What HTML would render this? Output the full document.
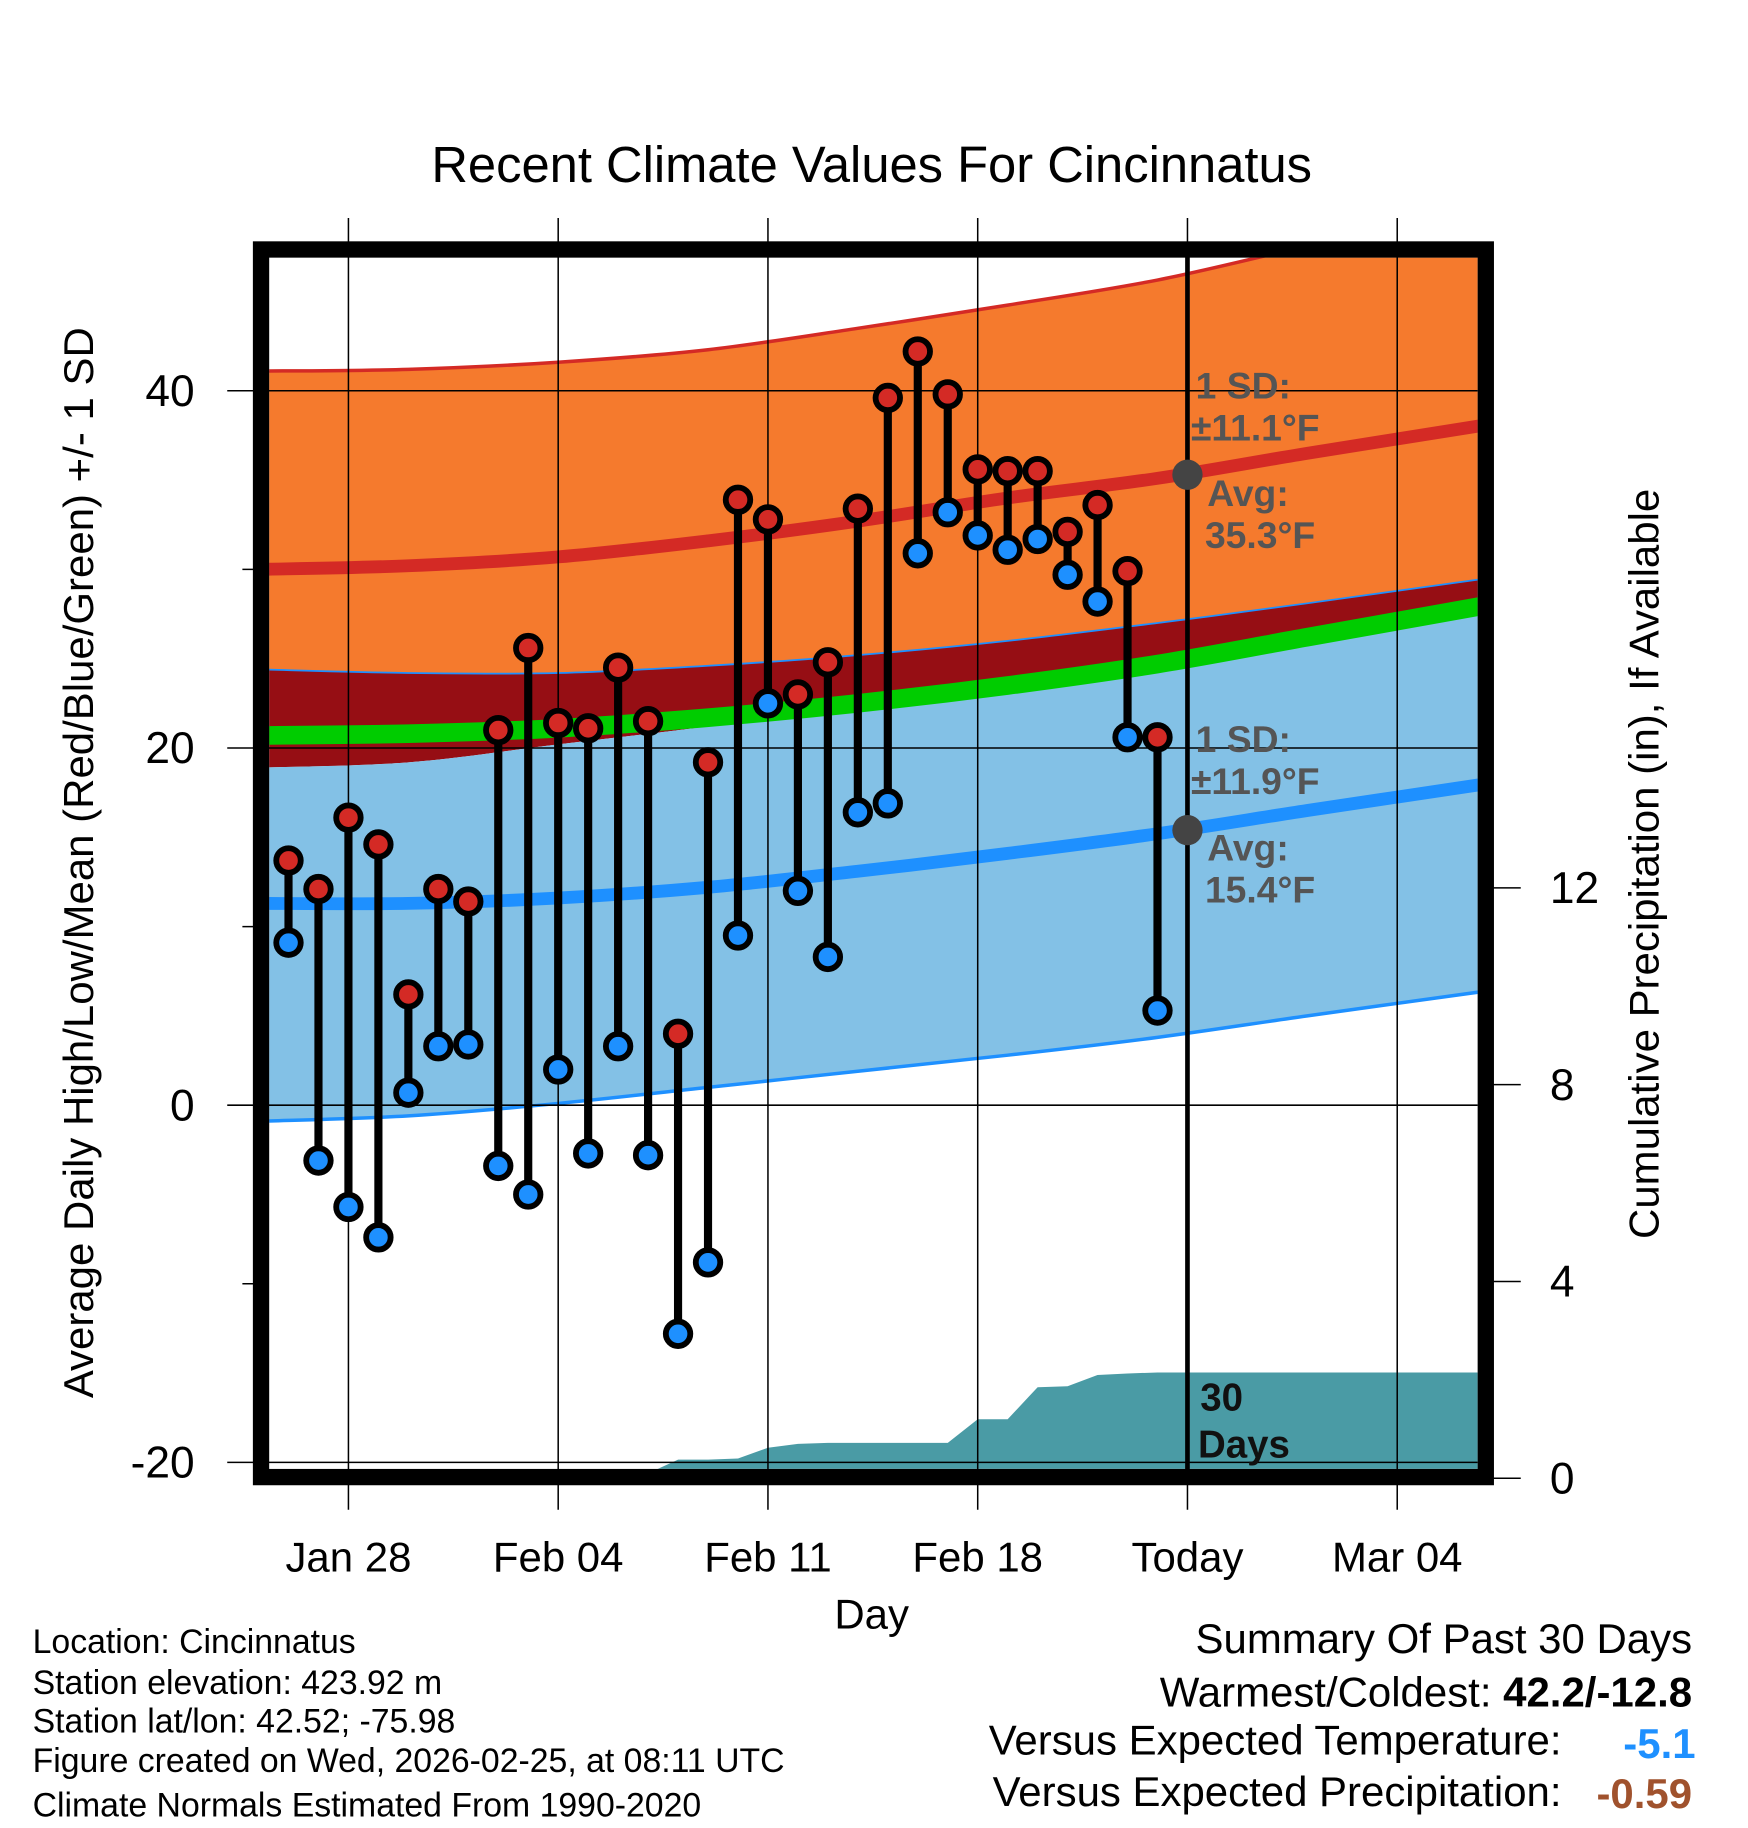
<!DOCTYPE html>
<html><head><meta charset="utf-8"><style>html,body{margin:0;padding:0;background:#fff}svg{display:block}text{font-family:"Liberation Sans",sans-serif}</style></head>
<body>
<svg id="chart" width="1748" height="1828" viewBox="0 0 1500 1568" preserveAspectRatio="none" xmlns="http://www.w3.org/2000/svg">
<defs><clipPath id="pc"><rect x="231" y="221" width="1037" height="1039"/></clipPath></defs>
<rect width="1500" height="1568" fill="#fff"/>
<g id="bands" clip-path="url(#pc)"></g>
<g id="grid"></g>
<g id="marks"></g>
<g id="annot" font-size="32" font-weight="bold" fill="#555">
<text x="1026" y="342">1 SD:</text>
<text x="1022" y="378">±11.1°F</text>
<text x="1036" y="434">Avg:</text>
<text x="1034" y="470">35.3°F</text>
<text x="1026" y="645">1 SD:</text>
<text x="1022" y="681">±11.9°F</text>
<text x="1036" y="738">Avg:</text>
<text x="1034" y="774">15.4°F</text>
<text x="1030" y="1210" fill="#111" font-size="33">30</text>
<text x="1028" y="1250" fill="#111" font-size="33">Days</text>
</g>
<rect x="224" y="214" width="1051" height="1053" fill="none" stroke="#000" stroke-width="14"/>
<text x="748" y="156" font-size="43.5" text-anchor="middle">Recent Climate Values For Cincinnatus</text>
<text transform="translate(80,740) rotate(-90)" font-size="36" text-anchor="middle">Average Daily High/Low/Mean (Red/Blue/Green) +/- 1 SD</text>
<text transform="translate(1423,741) rotate(-90)" font-size="36" text-anchor="middle">Cumulative Precipitation (in), If Available</text>
<text x="748" y="1397" font-size="36" text-anchor="middle">Day</text>
<g font-size="29">
<text x="28" y="1418">Location: Cincinnatus</text>
<text x="28" y="1453">Station elevation: 423.92 m</text>
<text x="28" y="1486">Station lat/lon: 42.52; -75.98</text>
<text x="28" y="1520">Figure created on Wed, 2026-02-25, at 08:11 UTC</text>
<text x="28" y="1558">Climate Normals Estimated From 1990-2020</text>
</g>
<g font-size="36" text-anchor="end">
<text x="1452" y="1418">Summary Of Past 30 Days</text>
<text x="1452" y="1464">Warmest/Coldest: <tspan font-weight="bold">42.2/-12.8</tspan></text>
<text x="1340" y="1505">Versus Expected Temperature:</text>
<text x="1455" y="1508" font-weight="bold" fill="#1e90ff">-5.1</text>
<text x="1340" y="1549">Versus Expected Precipitation:</text>
<text x="1452" y="1551" font-weight="bold" fill="#a0522d">-0.59</text>
</g>
</svg>
<script>
const days=[-2,-1,0,1,2,3,4,5,6,7,8,9,10,11,12,13,14,15,16,17,18,19,20,21,22,23,24,25,26,27];
const highs=[13.7,12.1,16.1,14.6,6.2,12.1,11.4,21.0,25.6,21.4,21.1,24.5,21.5,4.0,19.2,33.9,32.8,23.0,24.8,33.4,39.6,42.2,39.8,35.6,35.5,35.5,32.1,33.6,29.9,20.6];
const lows=[9.1,-3.1,-5.7,-7.4,0.7,3.3,3.4,-3.4,-5.0,2.0,-2.7,3.3,-2.8,-12.8,-8.8,9.5,22.5,12.0,8.3,16.4,16.9,30.9,33.2,31.9,31.1,31.7,29.7,28.2,20.6,5.3];
const precip=[0,0,0,0,0,0,0,0,0,0,0,0,0.1,0.38,0.38,0.4,0.62,0.7,0.72,0.72,0.72,0.72,0.72,1.2,1.2,1.85,1.87,2.1,2.13,2.15];
const normDays=[-3,2,7,12,17,22,27,32,38];
const hiUpper=[41.1,41.2,41.6,42.3,43.5,44.8,46.2,48.1,50.3];
const hiMean=[30.0,30.2,30.7,31.6,32.7,34.0,35.1,36.5,38.1];
const hiLower=[24.4,24.2,24.2,24.6,25.2,26.0,27.0,28.1,29.5];
const avgMean=[20.7,20.8,21.1,21.7,22.5,23.5,24.7,26.2,28.0];
const loUpper=[18.9,19.2,20.2,21.2,22.3,23.5,24.8,26.0,27.5];
const loMean=[11.3,11.3,11.6,12.2,13.1,14.1,15.2,16.5,18.0];
const loLower=[-0.9,-0.6,0.1,1.0,1.9,2.8,3.8,5.0,6.4];
const xTickDays=[0,7,14,21,28,35];
const xTickLabels=["Jan 28","Feb 04","Feb 11","Feb 18","Today","Mar 04"];
const yTicks=[40,20,0,-20];
const yMinor=[30,10,-10];
const y2Ticks=[0,4,8,12];
const todayDay=28, todayHi=35.3, todayLo=15.4;

const NS="http://www.w3.org/2000/svg";
const X=d=>299+25.714*d;
const Y=v=>948-15.32*v;
const Y2=p=>1268-42.2*p;
function mk(t,a,p){const e=document.createElementNS(NS,t);for(const k in a)e.setAttribute(k,a[k]);p.appendChild(e);return e;}
const bands=document.getElementById('bands'),grid=document.getElementById('grid'),marks=document.getElementById('marks');
function curve(P,start){
 let s=start+P[0][0].toFixed(1)+','+P[0][1].toFixed(1);
 for(let i=0;i<P.length-1;i++){
  const p0=P[i-1]||P[i],p1=P[i],p2=P[i+1],p3=P[i+2]||P[i+1];
  const c1=[p1[0]+(p2[0]-p0[0])/6,p1[1]+(p2[1]-p0[1])/6];
  const c2=[p2[0]-(p3[0]-p1[0])/6,p2[1]-(p3[1]-p1[1])/6];
  s+=' C'+c1.map(v=>v.toFixed(1)).join(',')+' '+c2.map(v=>v.toFixed(1)).join(',')+' '+p2.map(v=>v.toFixed(1)).join(',');
 }
 return s;
}
function ptsOf(arr){return normDays.map((d,i)=>[X(d),Y(arr[i])]);}
function area(up,lo,fill,name){
 const e=mk('path',{d:curve(ptsOf(up),'M')+' '+curve(ptsOf(lo).reverse(),'L')+' Z',fill:fill},bands);
 
 
}
function line(arr,col,w,name){
 const e=mk('path',{d:curve(ptsOf(arr),'M'),fill:'none',stroke:col,'stroke-width':w},bands);
 
 
}
area(hiLower,loUpper,'#960e14','overlap-band');
area(hiUpper,hiLower,'#f57a2d','high-sd-band');
area(loUpper,loLower,'#83c1e6','low-sd-band');
line(hiUpper,'#d42a25',3,'high-upper-line');
line(loLower,'#1e90ff',3,'low-lower-line');
line(hiLower,'#1e90ff',1.5,'high-lower-line');
line(avgMean,'#00cc00',16,'mean-line');
line(hiMean,'#d42a25',11,'high-mean-line');
line(loMean,'#1e90ff',11,'low-mean-line');
{
 const p=[X(-2.7)+','+Y2(0)];
 days.forEach((d,i)=>p.push(X(d).toFixed(1)+','+Y2(precip[i]).toFixed(1)));
 p.push(X(38)+','+Y2(precip[precip.length-1]));p.push(X(38)+','+Y2(0));
 const e=mk('polygon',{points:p.join(' '),fill:'#4a9ba5'},bands);
 
 
}
yTicks.forEach(v=>{
 const g=mk('line',{x1:195,x2:1268,y1:Y(v),y2:Y(v),stroke:'#000','stroke-width':1.3},grid);
 
 
 const t=mk('text',{x:167,y:Y(v)+13,'font-size':38,'text-anchor':'end'},grid);t.textContent=v;
 
 
});
yMinor.forEach(v=>{mk('line',{x1:208,x2:222,y1:Y(v),y2:Y(v),stroke:'#000','stroke-width':1.3},grid);});
y2Ticks.forEach(p=>{
 mk('line',{x1:1276,x2:1305,y1:Y2(p),y2:Y2(p),stroke:'#000','stroke-width':1.3},grid);
 const t=mk('text',{x:1330,y:Y2(p)+13,'font-size':38},grid);t.textContent=p;
 
 
});
xTickDays.forEach((d,i)=>{
 const g=mk('line',{x1:X(d),x2:X(d),y1:187,y2:1295,stroke:'#000','stroke-width':1.3},grid);
 
 
 const t=mk('text',{x:X(d),y:1348,'font-size':36,'text-anchor':'middle'},grid);t.textContent=xTickLabels[i];
 
 
});
{const e=mk('line',{x1:X(todayDay),x2:X(todayDay),y1:212,y2:1262,stroke:'#000','stroke-width':4},grid);
 
 }
days.forEach((d,i)=>{
 const s=mk('line',{x1:X(d),x2:X(d),y1:Y(highs[i]),y2:Y(lows[i]),stroke:'#000','stroke-width':7},marks);
 
 
 const h=mk('circle',{cx:X(d),cy:Y(highs[i]),r:10.5,fill:'#d42a25',stroke:'#000','stroke-width':5},marks);
 
 
 const l=mk('circle',{cx:X(d),cy:Y(lows[i]),r:10.5,fill:'#1e90ff',stroke:'#000','stroke-width':5},marks);
 
 
});
[todayHi,todayLo].forEach(v=>{
 const c=mk('circle',{cx:X(todayDay),cy:Y(v),r:13,fill:'#444'},marks);
 
 
});
</script>
</body></html>
